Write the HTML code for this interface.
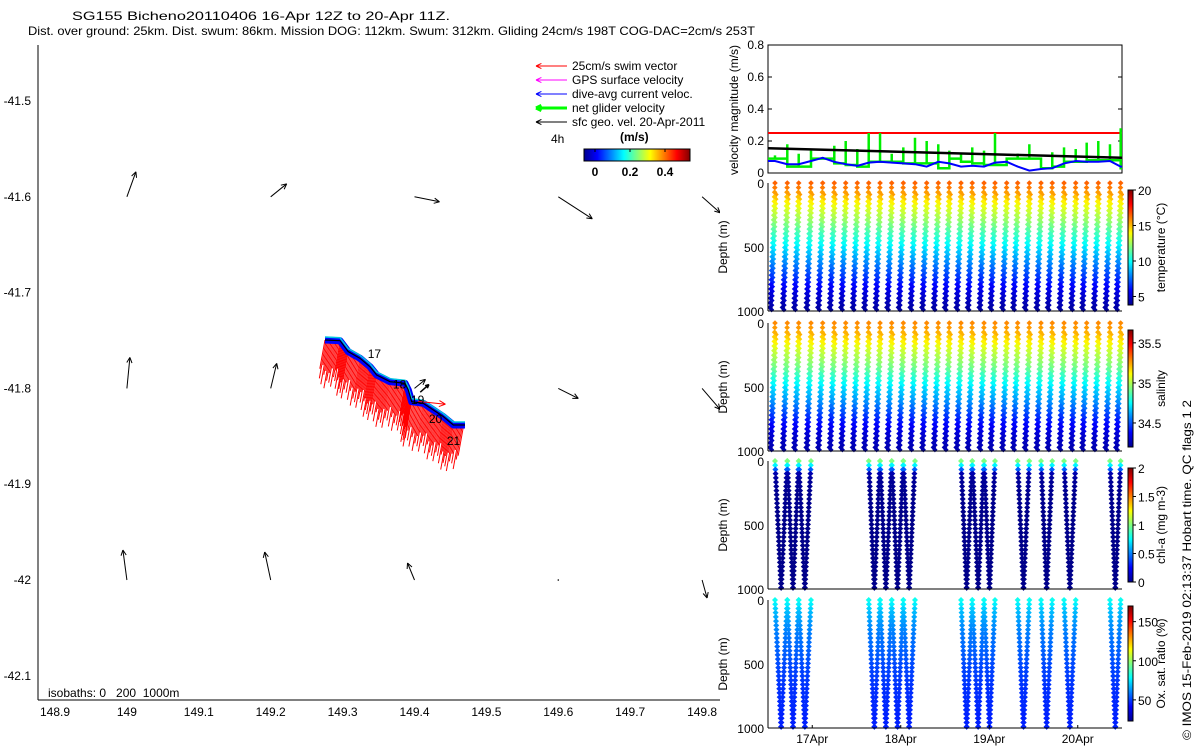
<!DOCTYPE html>
<html><head><meta charset="utf-8"><style>
html,body{margin:0;padding:0;background:#fff;}
svg{display:block;font-family:"Liberation Sans",sans-serif;}
text{font-size:12px;fill:#000;}
</style></head><body>
<svg id="fig" width="1200" height="750" viewBox="0 0 1200 750" xmlns="http://www.w3.org/2000/svg">
<defs>
<linearGradient id="jetH" x1="0" x2="1" y1="0" y2="0">
<stop offset="0" stop-color="#00008f"/><stop offset="0.125" stop-color="#0000ff"/><stop offset="0.375" stop-color="#00ffff"/><stop offset="0.625" stop-color="#ffff00"/><stop offset="0.875" stop-color="#ff0000"/><stop offset="1" stop-color="#800000"/></linearGradient>
<linearGradient id="jetV" x1="0" x2="0" y1="1" y2="0">
<stop offset="0" stop-color="#00008f"/><stop offset="0.125" stop-color="#0000ff"/><stop offset="0.375" stop-color="#00ffff"/><stop offset="0.625" stop-color="#ffff00"/><stop offset="0.875" stop-color="#ff0000"/><stop offset="1" stop-color="#800000"/></linearGradient>
<clipPath id="mapclip"><rect x="38" y="45" width="682" height="655"/></clipPath>
</defs>
<g>
<text x="72" y="20" textLength="378" lengthAdjust="spacingAndGlyphs">SG155 Bicheno20110406 16-Apr 12Z to 20-Apr 11Z.</text>
<text x="28" y="35" textLength="727" lengthAdjust="spacingAndGlyphs">Dist. over ground: 25km. Dist. swum: 86km. Mission DOG: 112km. Swum: 312km. Gliding 24cm/s 198T COG-DAC=2cm/s 253T</text>
</g>
<g id="map"></g>
<g id="vel"></g>
<g id="prof"></g>
<text transform="translate(1191,740) rotate(-90)" textLength="340" lengthAdjust="spacingAndGlyphs">© IMOS 15-Feb-2019 02:13:37 Hobart time. QC flags 1  2</text>
</svg>
<script>
// ---------- data ----------
const lonTicks = [148.9,149,149.1,149.2,149.3,149.4,149.5,149.6,149.7,149.8];
const latTicks = [-41.5,-41.6,-41.7,-41.8,-41.9,-42,-42.1];
const geoLon = [149.0,149.2,149.4,149.6,149.8, 149.0,149.2,149.4,149.6,149.8, 149.0,149.2,149.4,149.6,149.8];
const geoLat = [-41.6,-41.6,-41.6,-41.6,-41.6, -41.8,-41.8,-41.8,-41.8,-41.8, -42,-42,-42,-42,-42];
const geoU = [0.09,0.16,0.25,0.34,0.18, 0.03,0.06,0.11,0.20,0.18, -0.04,-0.06,-0.07,0.0,0.05];
const geoV = [0.25,0.13,-0.05,-0.22,-0.16, 0.31,0.25,0.09,-0.10,-0.21, 0.30,0.28,0.17,0.0,-0.18];
const trackLon = [149.2755,149.2964,149.3079,149.3242,149.3381,149.3474,149.366,149.3868,149.3914,149.3961,149.4122,149.4262,149.4401,149.454,149.4702];
const trackLat = [-41.7495,-41.7502,-41.7617,-41.7686,-41.7774,-41.786,-41.793,-41.7947,-41.8017,-41.8139,-41.8156,-41.8225,-41.8295,-41.8382,-41.8382];
const swimLen = [0.030,0.040,0.026,0.046,0.036,0.032,0.050,0.042,0.034,0.044,0.029,0.048,0.038];
const dayLabels = ["17","18","19","20","21"];
const dayLon = [149.335,149.37,149.395,149.42,149.445];
const dayLat = [-41.764,-41.796,-41.812,-41.832,-41.855];
const surfT = [0.079,0.218,0.347,0.486,0.618,0.749,0.878,1.009,1.138,1.266,1.398,1.529,1.661,1.793,1.924,2.049,2.181,2.308,2.441,2.565,2.697,2.821,2.953,3.085,3.212,3.345,3.477,3.601,3.732,3.864,3.985];
const bioDives = [0,1,2,8,9,10,11,16,17,18,21,23,25,29];
const profDepth = [0,50,100,150,200,250,300,350,400,450,500,550,600,650,700,750,800,850,900,950,1000];
const tempVals = [16.4,15.9,15.0,14.0,13.3,12.7,12.1,11.4,10.8,10.2,9.5,8.8,8.2,7.6,7.0,6.4,5.8,5.3,4.9,4.5,4.3];
const salVals = [35.28,35.25,35.19,35.12,35.05,35.0,34.95,34.9,34.83,34.77,34.7,34.65,34.6,34.54,34.48,34.42,34.37,34.33,34.3,34.28,34.26];
const chlVals = [1.0,0.6,0.08,0.05,0.04,0.03,0.03,0.03,0.02,0.02,0.02,0.02,0.02,0.02,0.02,0.02,0.02,0.02,0.02,0.02,0.02];
const oxyVals = [80,74,68,65,62,60,58,57,55,54,52,51,50,49,48,48,47,47,46,46,46];
const greenLvl = [0.09,0.04,0.04,0.09,0.09,0.06,0.05,0.04,0.07,0.07,0.07,0.06,0.06,0.06,0.03,0.09,0.07,0.06,0.05,0.05,0.09,0.09,0.09,0.03,0.04,0.07,0.07,0.08,0.08,0.08,0.03];
const greenSpike = [0.11,0.18,0.12,0.14,0.10,0.17,0.20,0.15,0.25,0.25,0.12,0.16,0.22,0.20,0.18,0.14,0.12,0.16,0.14,0.25,0.06,0.12,0.18,0.09,0.13,0.16,0.15,0.19,0.20,0.18,0.28];
const dacVals = [0.075,0.055,0.055,0.075,0.095,0.07,0.055,0.045,0.065,0.07,0.065,0.06,0.055,0.04,0.07,0.06,0.04,0.045,0.04,0.065,0.07,0.04,0.015,0.025,0.03,0.06,0.075,0.07,0.07,0.075,0.04];
const sfcVel = [0.155,0.095];
const swimSpeed = [0.25];
const velTicks = [0,0.2,0.4,0.6,0.8];
const dateLabels = ["17Apr","18Apr","19Apr","20Apr"];
const dateT = [0.5,1.5,2.5,3.5];

// ---------- helpers ----------
const NS="http://www.w3.org/2000/svg";
function mk(tag, attrs, parent, txt){const e=document.createElementNS(NS,tag);for(const k in attrs)e.setAttribute(k,attrs[k]);if(txt!==undefined)e.textContent=txt;parent.appendChild(e);return e;}
function jet(v){v=Math.max(0,Math.min(1,v));const c=x=>Math.round(255*Math.max(0,Math.min(1,1.5-Math.abs(x))));return `rgb(${c(4*v-3)},${c(4*v-2)},${c(4*v-1)})`;}
const mx = lon => 55 + (lon-148.9)*719;
const my = lat => 101 + (-41.5-lat)*958;

// ---------- map ----------
const map=document.getElementById('map');
const ax=mk('g',{},map);


mk('line',{x1:38,y1:45,x2:38,y2:700,stroke:'#000'},ax);
mk('line',{x1:38,y1:700,x2:720,y2:700,stroke:'#000'},ax);
lonTicks.forEach(l=>{const t=mk('text',{x:mx(l),y:716,'text-anchor':'middle'},ax,String(l));

});
latTicks.forEach(l=>{const t=mk('text',{x:31,y:my(l)+4,'text-anchor':'end'},ax,String(l));

});
const inner=mk('g',{'clip-path':'url(#mapclip)'},map);
function arrow(g,x1,y1,x2,y2,col,w,head){
  mk('line',{x1,y1,x2,y2,stroke:col,'stroke-width':w},g);
  const a=Math.atan2(y2-y1,x2-x1),h=head;
  mk('path',{d:`M${x2} ${y2} L${x2-h*Math.cos(a-0.45)} ${y2-h*Math.sin(a-0.45)} M${x2} ${y2} L${x2-h*Math.cos(a+0.45)} ${y2-h*Math.sin(a+0.45)}`,stroke:col,'stroke-width':w,fill:'none'},g);
}
geoLon.forEach((lon,i)=>{
  const g=mk('g',{},inner);
  
  
  const x=mx(lon),y=my(geoLat[i]);const s=100;
  if(geoU[i]===0&&geoV[i]===0){mk('circle',{cx:x,cy:y,r:0.8,fill:'#000'},g);return;}
  arrow(g,x,y,x+geoU[i]*s,y-geoV[i]*s,'#000',1,6);
});
const swim=mk('g',{},inner);


let n=0;
for(let i=0;i<trackLon.length-1;i++){
  const x1=mx(trackLon[i]),y1=my(trackLat[i]),x2=mx(trackLon[i+1]),y2=my(trackLat[i+1]);
  const steps=Math.max(2,Math.round(Math.hypot(x2-x1,y2-y1)/1.3));
  for(let s=0;s<steps;s++){const f=s/steps,x=x1+(x2-x1)*f,y=y1+(y2-y1)*f;
    const L=swimLen[n%swimLen.length]*958;n++;
    mk('line',{x1:x,y1:y,x2:x-0.18*L,y2:y+L,stroke:'#f00','stroke-width':1},swim);}
}
const tpts=trackLon.map((l,i)=>mx(l)+','+my(trackLat[i])).join(' ');
const tb=mk('polyline',{points:tpts,fill:'none',stroke:'#0000ff','stroke-width':7,'stroke-linejoin':'round'},inner);


mk('polyline',{points:tpts,fill:'none',stroke:'#00c8e0','stroke-width':1.5,transform:'translate(0,-3)'},inner);
const tk=mk('polyline',{points:tpts,fill:'none',stroke:'#000','stroke-width':1.2},inner);


arrow(inner,mx(149.405),my(-41.8135),mx(149.443),my(-41.8165),'#f00',1,7);
arrow(inner,mx(149.408),my(-41.804),mx(149.42),my(-41.796),'#000',1.5,4);
dayLabels.forEach((d,i)=>{const t=mk('text',{x:mx(dayLon[i]),y:my(dayLat[i])+4},inner,d);

});
const iso=mk('text',{x:48,y:697},map,'isobaths: 0\u00a0\u00a0\u00a0200\u00a0\u00a01000m');


const leg=mk('g',{},map);


const legItems=[['25cm/s swim vector','#f00',1],['GPS surface velocity','#f0f',1],['dive-avg current veloc.','#00f',1],['net glider velocity','#0f0',3],['sfc geo. vel. 20-Apr-2011','#000',1]];
legItems.forEach((it,i)=>{const y=66+i*14;const g=mk('g',{},leg);


arrow(g,567,y,536,y,it[1],it[2],6);mk('text',{x:572,y:y+4},g,it[0]);});
mk('text',{x:551,y:143},leg,'4h');
mk('text',{x:620,y:141,'font-weight':'bold','font-size':'13'},leg,'(m/s)');
const cb=mk('rect',{x:584,y:149,width:106,height:12,fill:'url(#jetH)',stroke:'#000','stroke-width':1},leg);


[['0',595],['0.2',630],['0.4',665]].forEach(t=>{mk('line',{x1:t[1],y1:149,x2:t[1],y2:152,stroke:'#000'},leg);mk('text',{x:t[1],y:176,'text-anchor':'middle','font-weight':'bold','font-size':'13'},leg,t[0]);});

// ---------- right panels ----------
const X0=768,X1=1122; const tx=t=>X0+t*(X1-X0)/4;
const vel=document.getElementById('vel');
const vy=v=>173-v*160;
mk('rect',{x:X0,y:45,width:X1-X0,height:128,fill:'none',stroke:'#000'},vel);
velTicks.forEach(v=>{mk('text',{x:764,y:vy(v)+4,'text-anchor':'end'},vel,String(v));
mk('line',{x1:X0,y1:vy(v),x2:X0+4,y2:vy(v),stroke:'#000'},vel);mk('line',{x1:X1,y1:vy(v),x2:X1-4,y2:vy(v),stroke:'#000'},vel);});
const vl=mk('text',{transform:'translate(738,110) rotate(-90)','text-anchor':'middle'},vel,'velocity magnitude (m/s)');


const red=mk('line',{x1:X0,y1:vy(swimSpeed[0]),x2:X1,y2:vy(swimSpeed[0]),stroke:'#f00','stroke-width':2},vel);


let gp=`M${X0} ${vy(greenLvl[0])}`;
surfT.forEach((t,i)=>{const x=tx(t),nx=i<surfT.length-1?tx(surfT[i+1]):X1;
gp+=` L${x} ${vy(greenLvl[Math.max(0,i-1)])} L${x} ${vy(greenSpike[i])} L${x} ${vy(greenLvl[i])} L${nx} ${vy(greenLvl[i])}`;});
const gl=mk('path',{d:gp,fill:'none',stroke:'#00ee00','stroke-width':2.5},vel);


const sl=mk('line',{x1:X0,y1:vy(sfcVel[0]),x2:X1,y2:vy(sfcVel[1]),stroke:'#000','stroke-width':2.5},vel);


const bpts=[X0+','+vy(dacVals[0])].concat(surfT.map((t,i)=>tx(t)+','+vy(dacVals[i]))).concat([X1+','+vy(dacVals[dacVals.length-1])]).join(' ');
const bl=mk('polyline',{points:bpts,fill:'none',stroke:'#0000ff','stroke-width':2},vel);



const prof=document.getElementById('prof');
const panels=[
 {name:'temperature',top:183,vals:tempVals,lo:3.8,hi:20,bio:false,cb:[190,305],ticks:[[20,'20'],[15,'15'],[10,'10'],[5,'5']],label:'temperature (°C)'},
 {name:'salinity',top:323,vals:salVals,lo:34.2,hi:35.66,bio:false,cb:[330,447],ticks:[[35.5,'35.5'],[35,'35'],[34.5,'34.5']],label:'salinity'},
 {name:'chlorophyll',top:461,vals:chlVals,lo:0,hi:2,bio:true,cb:[468,582],ticks:[[2,'2'],[1.5,'1.5'],[1,'1'],[0.5,'0.5'],[0,'0']],label:'chl-a (mg m-3)'},
 {name:'oxygen',top:600,vals:oxyVals,lo:23,hi:170,bio:true,cb:[606,721],ticks:[[150,'150'],[100,'100'],[50,'50']],label:'Ox. sat. ratio (%)'}];
function valAt(arr,d){for(let i=0;i<profDepth.length-1;i++){if(d<=profDepth[i+1]){const f=(d-profDepth[i])/(profDepth[i+1]-profDepth[i]);return arr[i]+(arr[i+1]-arr[i])*f;}}return arr[arr.length-1];}
function diamond(g,x,y,col,r){mk('path',{d:`M${x} ${y-r}L${x+r} ${y}L${x} ${y+r}L${x-r} ${y}Z`,fill:col},g);}
panels.forEach(p=>{
  const g=mk('g',{},prof);
  
  
  const dy=d=>p.top+d*0.128;
  const cp='cp'+p.name;const c=mk('clipPath',{id:cp},g);mk('rect',{x:X0,y:p.top-4,width:X1-X0+2,height:136},c);
  const mg=mk('g',{'clip-path':`url(#${cp})`},g);
  if(!p.bio){
    surfT.forEach(t=>{
      for(let d=0;d<=1000;d+=36){
        const col=jet((valAt(p.vals,d)-p.lo)/(p.hi-p.lo));
        const xb=tx(t)-5*d/1000;
        diamond(mg,xb,dy(d),col,2.8);
        if(d>60) diamond(mg,xb+1.5,dy(d+18),col,2.6);
      }
    });
  } else {
    bioDives.forEach(k=>{
      const t0=surfT[k],t1=surfT[k+1],tm=(t0+t1)/2;
      for(let d=0;d<=1000;d+=33){
        const col=jet((valAt(p.vals,d)-p.lo)/(p.hi-p.lo));
        diamond(mg,tx(t0+(tm-t0)*d/1000),dy(d),col,3);
        diamond(mg,tx(t1-(t1-tm)*d/1000),dy(d),col,3);
      }
    });
  }
  mk('line',{x1:X0,y1:p.top,x2:X0,y2:p.top+128,stroke:'#000'},g);
  mk('line',{x1:X0,y1:p.top+128,x2:X1,y2:p.top+128,stroke:'#000'},g);
  [[0,'0'],[500,'500'],[1000,'1000']].forEach(t=>{mk('text',{x:764,y:dy(t[0])+5,'text-anchor':'end'},g,t[1]);});
  mk('text',{transform:`translate(727,${p.top+64}) rotate(-90)`,'text-anchor':'middle'},g,'Depth (m)');
  const cbr=mk('rect',{x:1128,y:p.cb[0],width:5,height:p.cb[1]-p.cb[0],fill:'url(#jetV)',stroke:'#000','stroke-width':1},g);
  
  
  p.ticks.forEach(t=>{const y=p.cb[1]-(t[0]-p.lo)/(p.hi-p.lo)*(p.cb[1]-p.cb[0]);
    mk('line',{x1:1133,y1:y,x2:1136,y2:y,stroke:'#000'},g);
    mk('text',{x:1138,y:y+5,'font-size':'13'},g,t[1]);});
  mk('text',{transform:`translate(1165,${(p.cb[0]+p.cb[1])/2}) rotate(-90)`,'text-anchor':'middle','font-size':'13'},g,p.label);
});
dateLabels.forEach((d,i)=>{const t=mk('text',{x:tx(dateT[i]),y:743,'text-anchor':'middle','font-size':'13'},prof,d);


mk('line',{x1:tx(dateT[i]),y1:728,x2:tx(dateT[i]),y2:725,stroke:'#000'},prof);});
</script>
</body></html>
